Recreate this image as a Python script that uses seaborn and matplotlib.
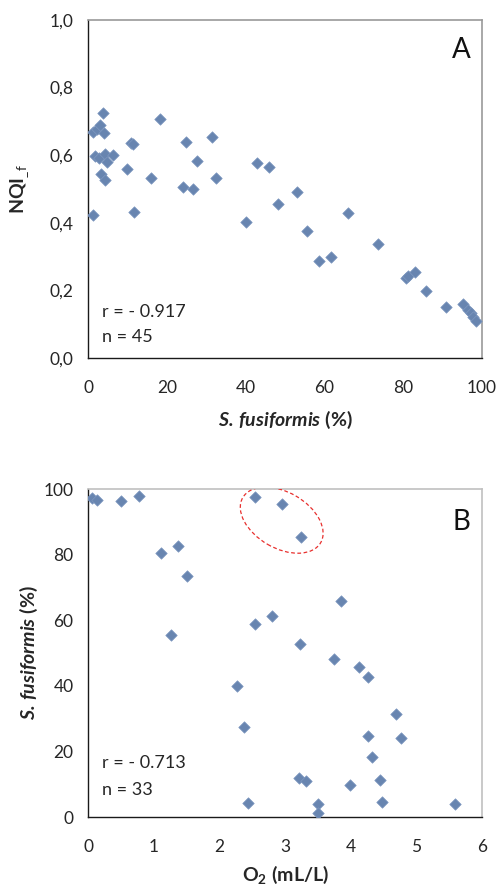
import matplotlib
matplotlib.use("Agg")
import matplotlib.pyplot as plt
import matplotlib.transforms as mtransforms
from matplotlib.patches import Ellipse
from matplotlib.ticker import FuncFormatter
import seaborn as sns
import pandas as pd

# ---- data: panel A (S. fusiformis % vs NQI_f) ----
a_fusiformis = [1.2, 2.3, 3.1, 3.9, 4.1, 1.8, 2.8, 4.3, 6.4, 4.7, 3.2, 4.3, 9.8,
                11.0, 11.4, 16.0, 18.3, 24.0, 26.6, 24.9, 27.6, 31.5, 32.4,
                42.8, 46.0, 53.0, 1.3, 11.7, 40.1, 48.3, 55.7, 58.7, 61.6, 66.1,
                73.7, 80.7, 81.3, 83.0, 85.8, 90.8, 95.3, 96.5, 97.2, 97.8, 98.5]
a_nqi = [0.670, 0.678, 0.689, 0.724, 0.667, 0.598, 0.592, 0.604, 0.601, 0.581,
         0.544, 0.527, 0.559, 0.637, 0.632, 0.532, 0.708, 0.507, 0.500, 0.638,
         0.583, 0.655, 0.532, 0.578, 0.564, 0.491, 0.423, 0.431, 0.401, 0.456,
         0.377, 0.288, 0.298, 0.430, 0.337, 0.236, 0.242, 0.255, 0.199, 0.151,
         0.159, 0.142, 0.132, 0.122, 0.108]

# ---- data: panel B (O2 vs S. fusiformis %) ----
b_o2 = [0.06, 0.13, 0.51, 0.77, 1.11, 1.37, 1.50, 1.27, 2.54, 2.96, 3.25, 3.86,
        2.80, 2.55, 3.23, 2.27, 3.75, 4.13, 4.26, 2.38, 4.69, 4.27, 4.77, 4.33,
        3.22, 3.32, 3.99, 4.44, 2.43, 3.51, 3.51, 4.48, 5.59]
b_fusiformis = [97.2, 96.6, 96.3, 98.0, 80.6, 82.6, 73.6, 55.6, 97.7, 95.4, 85.5,
                66.0, 61.4, 58.7, 52.7, 40.0, 48.2, 45.8, 42.6, 27.5, 31.4, 24.7,
                24.0, 18.2, 12.0, 11.0, 9.8, 11.3, 4.2, 4.0, 1.3, 4.7, 4.0]

a_xticks = [0, 20, 40, 60, 80, 100]
a_yticks = [0.0, 0.2, 0.4, 0.6, 0.8, 1.0]
b_xticks = [0, 1, 2, 3, 4, 5, 6]
b_yticks = [0, 20, 40, 60, 80, 100]

stats_a = ["r = - 0.917", "n = 45"]
stats_b = ["r = - 0.713", "n = 33"]

sns.set_theme(style="white")
plt.rcParams["font.family"] = ["Lato", "DejaVu Sans"]
plt.rcParams["mathtext.fontset"] = "custom"
plt.rcParams["mathtext.rm"] = "Lato"
plt.rcParams["mathtext.it"] = "Lato:italic"
plt.rcParams["mathtext.bf"] = "Lato:bold"
plt.rcParams["mathtext.bfit"] = "Lato:bold:italic"

MARKER_COLOR = "#6885b0"
TEXT_COLOR = "#262626"

fig = plt.figure(figsize=(4.99, 8.88), dpi=100)
axA = fig.add_axes([88 / 499, (888 - 358) / 888, 394 / 499, 338 / 888])
axB = fig.add_axes([88 / 499, (888 - 817) / 888, 394 / 499, 328 / 888])

dfA = pd.DataFrame({"x": a_fusiformis, "y": a_nqi})
dfB = pd.DataFrame({"x": b_o2, "y": b_fusiformis})

sns.scatterplot(data=dfA, x="x", y="y", ax=axA, marker="D", s=34,
                color=MARKER_COLOR, edgecolor="#7d97bf", linewidth=0.5, zorder=3)
sns.scatterplot(data=dfB, x="x", y="y", ax=axB, marker="D", s=34,
                color=MARKER_COLOR, edgecolor="#7d97bf", linewidth=0.5, zorder=3)

comma = FuncFormatter(lambda v, p: f"{v:.1f}".replace(".", ","))


def style(ax, xticks, yticks, border_color):
    ax.set_xlim(xticks[0], xticks[-1])
    ax.set_ylim(yticks[0], yticks[-1])
    ax.set_xticks(xticks)
    ax.set_yticks(yticks)
    for s in ["left", "bottom"]:
        ax.spines[s].set_color("#1a1a1a")
        ax.spines[s].set_linewidth(1.0)
    for s in ["top", "right"]:
        ax.spines[s].set_color(border_color)
        ax.spines[s].set_linewidth(1.2)
    ax.tick_params(axis="both", which="major", direction="out", length=5,
                   width=0.9, color="#8c8c8c", labelsize=12.5,
                   labelcolor=TEXT_COLOR)
    ax.tick_params(axis="y", pad=5.5)
    ax.tick_params(axis="x", pad=11)
    ax.grid(False)


style(axA, a_xticks, a_yticks, "#9a9a9a")
style(axB, b_xticks, b_yticks, "#c0c0c0")
axA.yaxis.set_major_formatter(comma)

# labels
axA.set_xlabel(r"$\mathbfit{S.\,fusiformis}$ $\mathbf{(\%)}$", fontsize=14,
               color=TEXT_COLOR)
axA.xaxis.set_label_coords(0.5, (358 - 420) / 338)
axA.xaxis.label.set_va("center")
axA.set_ylabel(r"$\mathbf{NQI}_{\mathrm{\_f}}$", fontsize=14, color=TEXT_COLOR)
axA.yaxis.set_label_coords((20 - 88) / 394, 0.5)
axA.yaxis.label.set_va("center")

axB.set_xlabel(r"$\mathbf{O}_{\mathbf{2}}$ $\mathbf{(mL/L)}$", fontsize=14,
               color=TEXT_COLOR)
axB.xaxis.set_label_coords(0.5, (817 - 875) / 328)
axB.xaxis.label.set_va("center")
axB.set_ylabel(r"$\mathbfit{S.\,fusiformis}$ $\mathbf{(\%)}$", fontsize=14,
               color=TEXT_COLOR)
axB.yaxis.set_label_coords((29 - 88) / 394, 0.5)
axB.yaxis.label.set_va("center")

# stats text
axA.text(0.035, 0.136, stats_a[0], transform=axA.transAxes, fontsize=13,
         va="center", ha="left", color=TEXT_COLOR)
axA.text(0.035, 0.062, stats_a[1], transform=axA.transAxes, fontsize=13,
         va="center", ha="left", color=TEXT_COLOR)
axB.text(0.035, 0.165, stats_b[0], transform=axB.transAxes, fontsize=13,
         va="center", ha="left", color=TEXT_COLOR)
axB.text(0.035, 0.082, stats_b[1], transform=axB.transAxes, fontsize=13,
         va="center", ha="left", color=TEXT_COLOR)

# panel letters
axA.text(0.947, 0.911, "A", transform=axA.transAxes, fontsize=20,
         va="center", ha="center", color="#111111")
axB.text(0.947, 0.899, "B", transform=axB.transAxes, fontsize=20,
         va="center", ha="center", color="#111111")

# red dashed ellipse around the three high-O2 / high-fusiformis points
ell_center = (2.95, 90.5)
trans = fig.dpi_scale_trans + mtransforms.ScaledTranslation(
    ell_center[0], ell_center[1], axB.transData)
ell = Ellipse((0, 0), width=0.90, height=0.56, angle=-30, transform=trans,
              fill=False, edgecolor="#e8302e", linestyle=(0, (3, 2)),
              linewidth=0.9, zorder=4)
axB.add_patch(ell)

fig.savefig("out.png", dpi=100)
